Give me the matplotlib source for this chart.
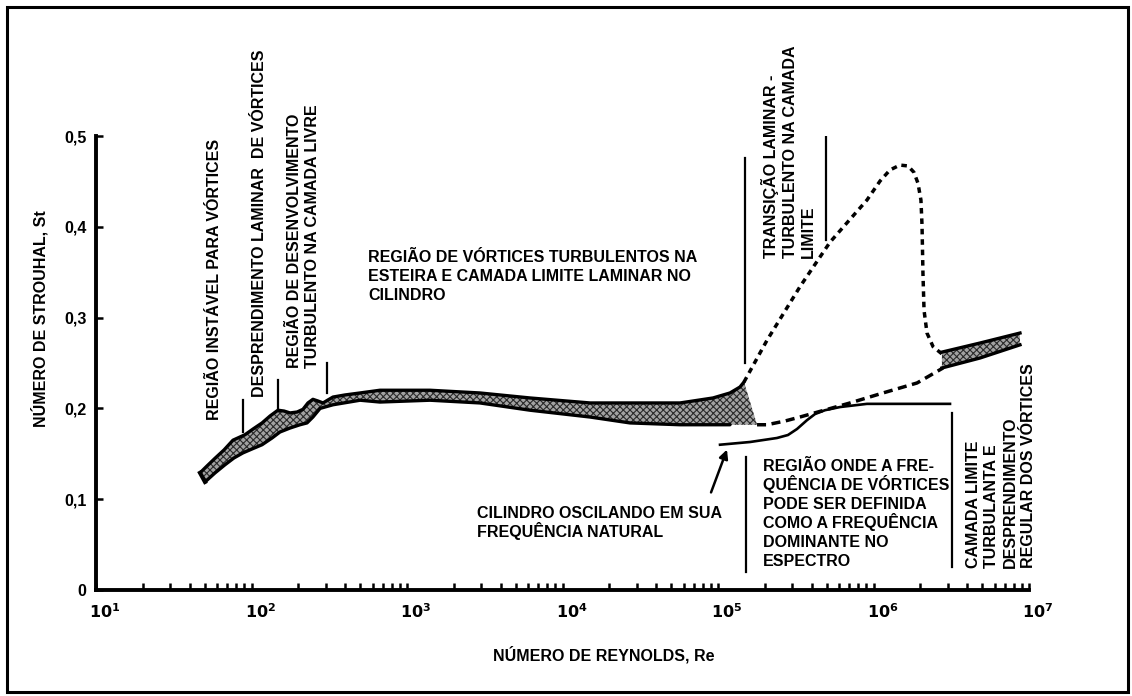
import numpy as np
import matplotlib.pyplot as plt
from matplotlib.patches import Rectangle
from matplotlib.transforms import ScaledTranslation

plt.rcParams['font.family'] = ['Liberation Sans', 'DejaVu Sans']
plt.rcParams['font.weight'] = 'bold'
plt.rcParams['hatch.linewidth'] = 0.8
plt.rcParams['hatch.color'] = '#2a2a2a'

# --- values: log10(Re) and St ---
# main band (laminar wake -> subcritical)
band_up_lg = [1.669, 1.714, 1.765, 1.823, 1.881, 1.958, 2.010, 2.068, 2.119, 2.170,
              2.209, 2.248, 2.293, 2.331, 2.363, 2.395, 2.428, 2.460, 2.492, 2.524,
              2.601, 2.698, 2.826, 3.148, 3.469, 3.791, 4.177, 4.434, 4.756, 4.968,
              5.077, 5.141, 5.167]
band_up_st = [0.129, 0.1366, 0.145, 0.1542, 0.165, 0.171, 0.1773, 0.184, 0.1916, 0.198,
              0.1971, 0.195, 0.196, 0.199, 0.206, 0.210, 0.2081, 0.206, 0.2093, 0.2125,
              0.2148, 0.217, 0.220, 0.220, 0.217, 0.2115, 0.206, 0.206, 0.206, 0.2115,
              0.217, 0.2235, 0.229]
band_lo_lg = [1.701, 1.765, 1.830, 1.887, 1.945, 2.003, 2.068, 2.132, 2.183, 2.248,
              2.312, 2.357, 2.395, 2.441, 2.524, 2.698, 2.826, 3.148, 3.469, 3.791,
              4.177, 4.434, 4.756, 5.077, 5.251]
band_lo_st = [0.119, 0.1289, 0.138, 0.1454, 0.151, 0.1553, 0.160, 0.1674, 0.174, 0.1784,
              0.182, 0.184, 0.1905, 0.200, 0.204, 0.209, 0.207, 0.209, 0.206, 0.198,
              0.1905, 0.184, 0.182, 0.182, 0.182]

# supercritical band
band2_up_lg = [6.440, 6.685, 6.942]
band2_up_st = [0.262, 0.272, 0.283]
band2_lo_lg = [6.440, 6.685, 6.942]
band2_lo_st = [0.2445, 0.2555, 0.270]

# dashed branches
dash_up_lg = [5.167, 5.315, 5.527, 5.720, 5.958, 6.042, 6.106, 6.170, 6.222, 6.260,
              6.286, 6.305, 6.312, 6.318, 6.325, 6.344, 6.383, 6.447]
dash_up_st = [0.229, 0.275, 0.334, 0.383, 0.4295, 0.4504, 0.4626, 0.468, 0.467, 0.460,
              0.448, 0.4295, 0.402, 0.349, 0.308, 0.283, 0.268, 0.259]
dash_lo_lg = [5.251, 5.315, 5.431, 5.527, 5.849, 6.061, 6.280, 6.447]
dash_lo_st = [0.182, 0.182, 0.1861, 0.1905, 0.206, 0.217, 0.228, 0.2445]

# oscillating cylinder curve
osc_lg = [5.013, 5.206, 5.379, 5.450, 5.508, 5.572, 5.624, 5.688, 5.785, 5.958, 6.492]
osc_st = [0.160, 0.163, 0.1674, 0.1707, 0.1773, 0.187, 0.1938, 0.198, 0.2015, 0.205, 0.205]

# region marker lines: (log10 Re, St bottom, St top)
markers = [(1.945, 0.174, 0.209), (2.170, 0.200, 0.231), (2.486, 0.217, 0.250),
           (5.174, 0.250, 0.476), (5.695, 0.385, 0.499),
           (5.180, 0.020, 0.1465), (6.505, 0.025, 0.195)]

# annotations: (log10 Re, St of first baseline start, lines)
rot_notes = [
    (1.791, 0.1872, ['REGIÃO INSTÁVEL PARA VÓRTICES']),
    (2.080, 0.2126, ['DESPRENDIMENTO LAMINAR  DE VÓRTICES']),
    (2.305, 0.2445, ['REGIÃO DE DESENVOLVIMENTO', 'TURBULENTO NA CAMADA LIVRE']),
    (5.373, 0.3656, ['TRANSIÇÃO LAMINAR -', 'TURBULENTO NA CAMADA', 'LIMITE']),
    (6.672, 0.0242, ['CAMADA LIMITE', 'TURBULANTA E', 'DESPRENDIMENTO',
                     'REGULAR DOS VÓRTICES']),
]
flat_notes = [
    (2.749, 0.3612, ['REGIÃO DE VÓRTICES TURBULENTOS NA',
                     'ESTEIRA E CAMADA LIMITE LAMINAR NO', 'CILINDRO']),
    (3.450, 0.0793, ['CILINDRO OSCILANDO EM SUA', 'FREQUÊNCIA NATURAL']),
    (5.289, 0.1311, ['REGIÃO ONDE A FRE-', 'QUÊNCIA DE VÓRTICES', 'PODE SER DEFINIDA',
                     'COMO A FREQUÊNCIA', 'DOMINANTE NO', 'ESPECTRO']),
]

yticks = [0, 0.1, 0.2, 0.3, 0.4, 0.5]
ytick_labels = ['0', '0,1', '0,2', '0,3', '0,4', '0,5']
xexp = [1, 2, 3, 4, 5, 6, 7]

def re(v):
    return 10 ** np.asarray(v)

fig = plt.figure(figsize=(11.32, 6.96), dpi=100)
ax = fig.add_axes([96/1132, 1-590/696, 933/1132, 454/696])

# shaded bands
ax.fill(np.concatenate([re(band_up_lg), re(band_lo_lg)[::-1]]),
        np.concatenate([band_up_st, band_lo_st[::-1]]),
        facecolor='#a2a2a2', hatch='xxxxx', edgecolor='#2a2a2a', lw=0)
ax.plot(re(band_up_lg), band_up_st, color='k', lw=2.4, solid_capstyle='round')
ax.plot(re(band_lo_lg[:-1]), band_lo_st[:-1], color='k', lw=2.4, solid_capstyle='round')
ax.plot(re([band_up_lg[0], band_lo_lg[0]]), [band_up_st[0], band_lo_st[0]], color='k', lw=3)

ax.fill(np.concatenate([re(band2_up_lg), re(band2_lo_lg)[::-1]]),
        np.concatenate([band2_up_st, band2_lo_st[::-1]]),
        facecolor='#a2a2a2', hatch='xxxxx', edgecolor='#2a2a2a', lw=0)
ax.plot(re(band2_up_lg), band2_up_st, color='k', lw=2.4)
ax.plot(re(band2_lo_lg), band2_lo_st, color='k', lw=2.4)

ax.plot(re(dash_up_lg), dash_up_st, color='k', lw=2.5, linestyle=(0, (1.6, 1.4)))
ax.plot(re(dash_lo_lg), dash_lo_st, color='k', lw=2.5, linestyle=(0, (2.6, 1.6)))
ax.plot(re(osc_lg), osc_st, color='k', lw=1.9)

for lg, y0, y1 in markers:
    ax.plot(re([lg, lg]), [y0, y1], color='k', lw=1.6)

ax.annotate('', xy=(re(5.064), 0.1575), xytext=(re(4.949), 0.1046),
            arrowprops=dict(arrowstyle='-|>', color='k', lw=1.8, mutation_scale=13))

fs = 11.5
for lg, st, lines in rot_notes:
    for i, line in enumerate(lines):
        ax.annotate(line, (re(lg), st), xytext=(18.5 * i, 0), textcoords='offset pixels',
                    rotation=90, rotation_mode='anchor', ha='left', va='baseline',
                    fontsize=fs)
for lg, st, lines in flat_notes:
    for i, line in enumerate(lines):
        ax.annotate(line, (re(lg), st), xytext=(0, -19.0 * i), textcoords='offset pixels',
                    ha='left', va='baseline', fontsize=fs)

# axes
ax.set_xscale('log')
ax.set_xlim(10, 1e7)
ax.set_ylim(0, 0.5)
for s in ['top', 'right']:
    ax.spines[s].set_visible(False)
for s in ['left', 'bottom']:
    ax.spines[s].set_linewidth(2.8)

ax.set_xticks(re(xexp))
ax.set_xticklabels([r'$\mathbf{10^{%d}}$' % e for e in xexp], fontsize=fs)
ax.set_xticks([m * 10 ** e for e in xexp[:-1] for m in range(2, 10)], minor=True)
ax.xaxis.set_minor_formatter(plt.NullFormatter())
ax.tick_params(axis='x', which='both', direction='in', length=5, width=1.8, pad=9)
ax.set_yticks(yticks)
ax.set_yticklabels(ytick_labels, fontsize=fs)
ax.tick_params(axis='y', direction='in', length=5, width=1.8, pad=7)
for lab in ax.get_xticklabels():
    lab.set_transform(lab.get_transform() + ScaledTranslation(0.09, 0, fig.dpi_scale_trans))

fig.text(40/1132, 1-319/696, 'NÚMERO DE STROUHAL, St', rotation=90,
         ha='center', va='center', fontsize=fs)
fig.text(604/1132, 1-655/696, 'NÚMERO DE REYNOLDS, Re', ha='center', va='center', fontsize=fs)

fig.patches.append(Rectangle((7/1132, 4/696), 1121/1132, 685/696, transform=fig.transFigure,
                             fill=False, edgecolor='k', lw=2.2))

fig.savefig('out.png', dpi=100)
